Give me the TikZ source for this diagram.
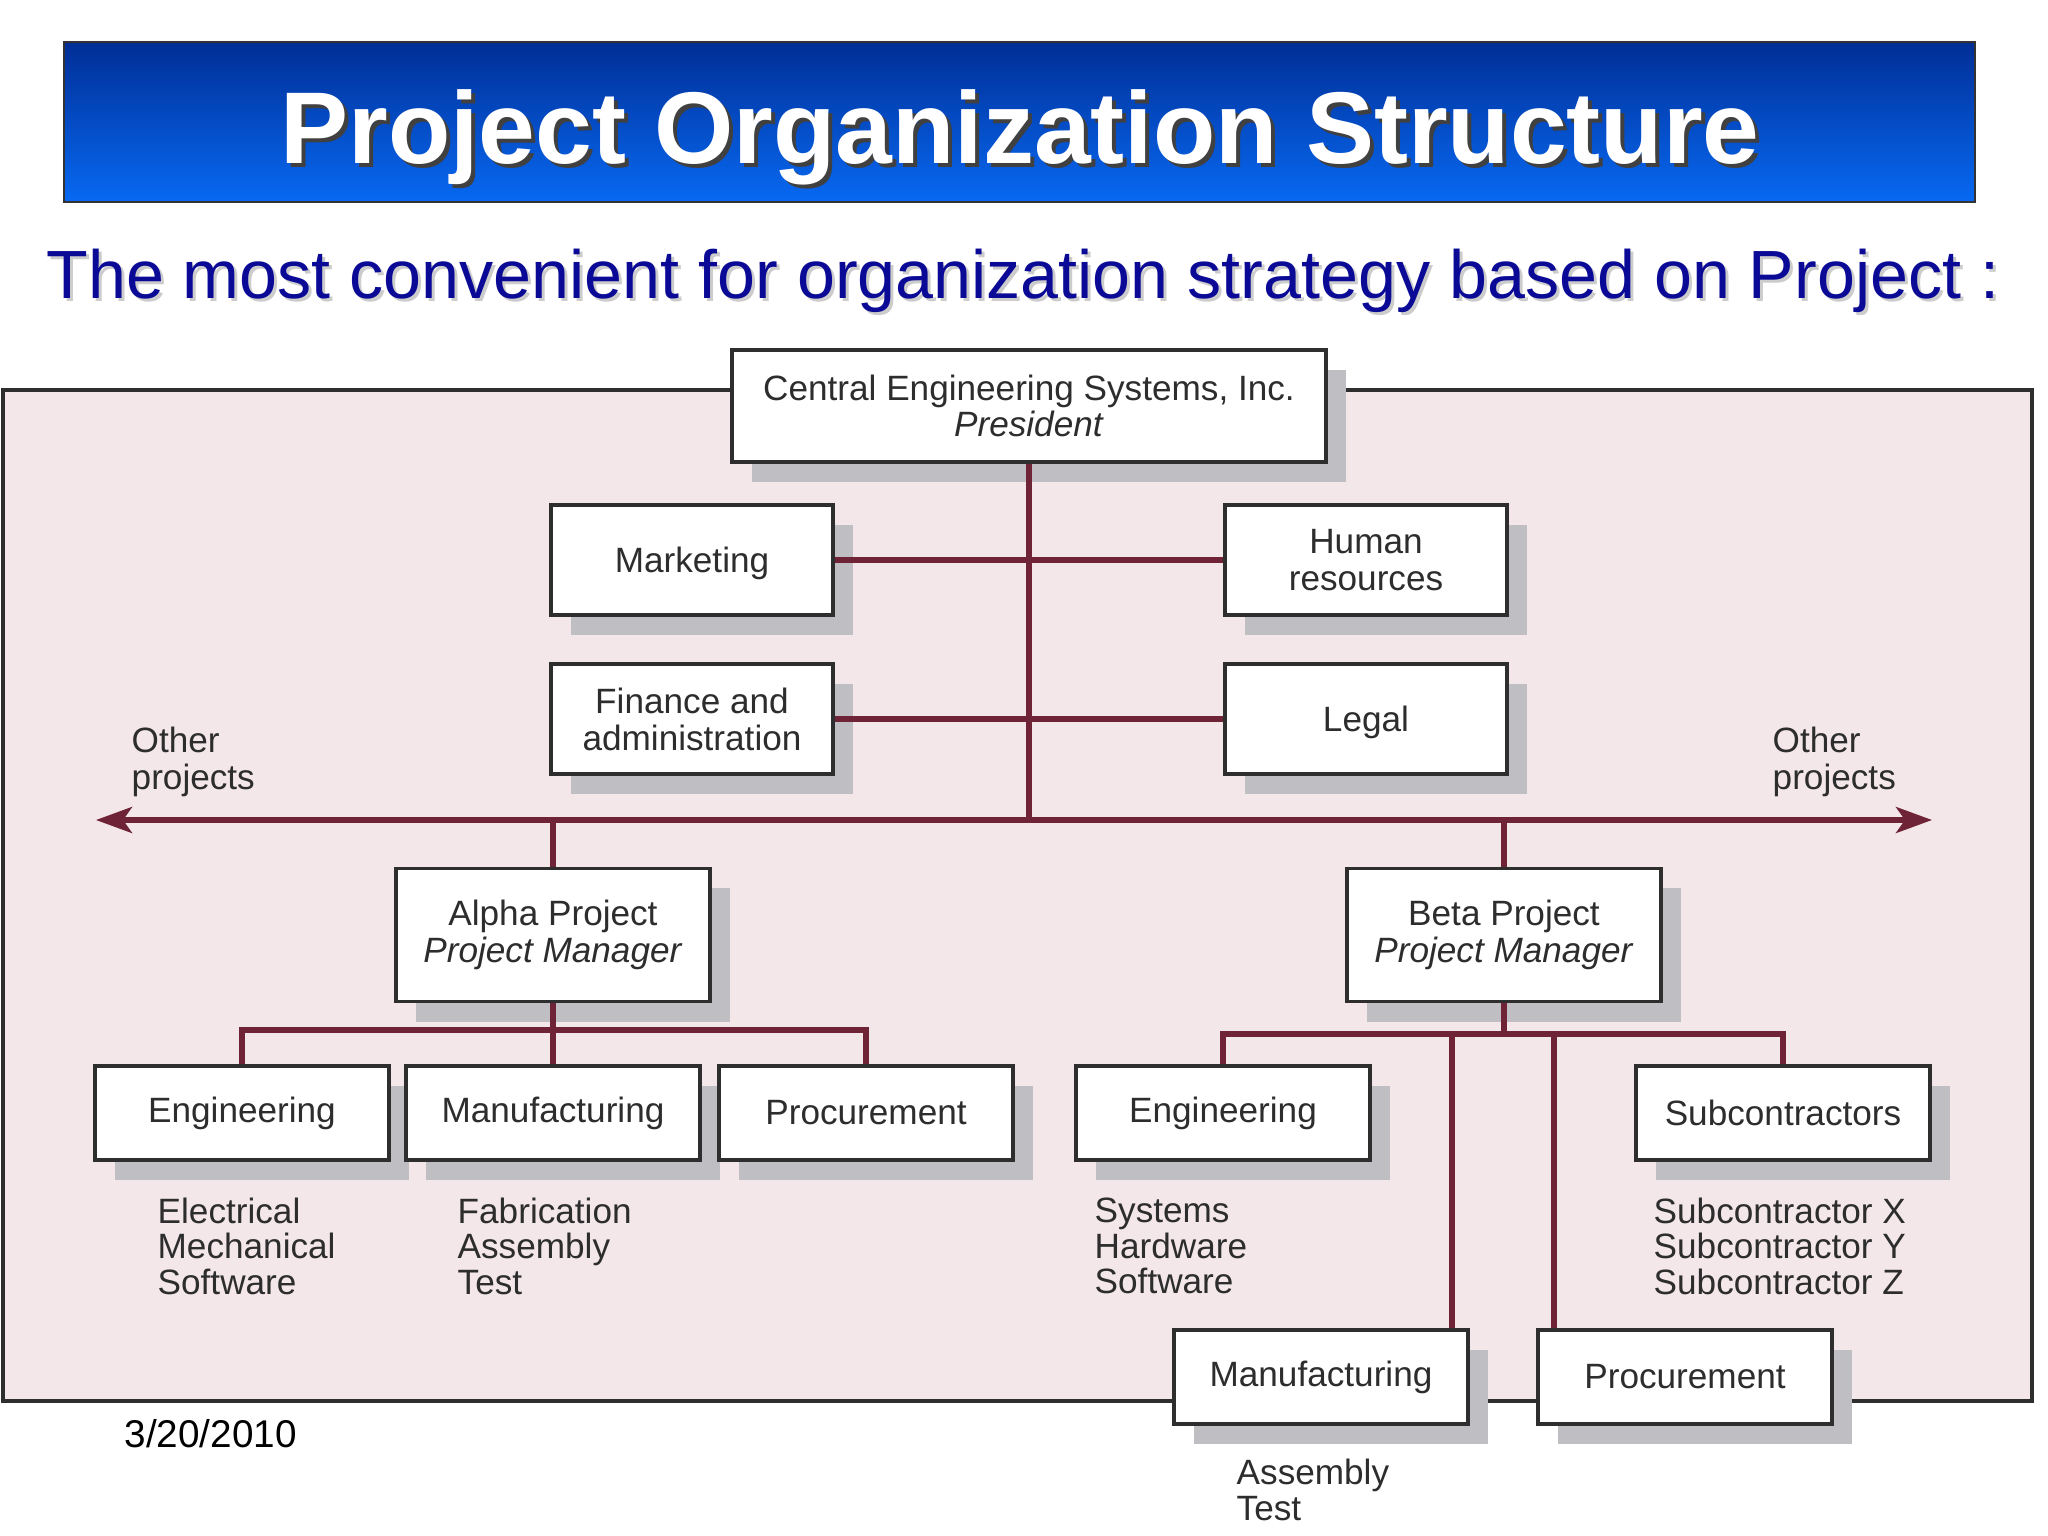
\documentclass[tikz,border=0pt]{standalone}
\usepackage{fontspec}
\setmainfont{Liberation Sans}
\usepackage{xcolor}
\usetikzlibrary{arrows.meta, positioning, shadows, calc}

\definecolor{barTop}{HTML}{002E96}
\definecolor{barBottom}{HTML}{0869F2}
\definecolor{subBlue}{HTML}{0A0A96}
\definecolor{panelPink}{HTML}{F3E7EA}
\definecolor{lineRed}{HTML}{6E2436}
\definecolor{boxEdge}{HTML}{2E2E2E}
\definecolor{shadeGray}{HTML}{BFBFC3}
\definecolor{inkGray}{HTML}{2D2D2D}

\tikzstyle{unit} = [draw=boxEdge, line width=1.1pt, fill=white, text=inkGray, align=center, inner sep=0pt,
  font=\fontsize{10}{10.4}\selectfont, general shadow={fill=shadeGray, shadow xshift=0.2cm, shadow yshift=-0.2cm}]
\tikzstyle{small} = [unit, minimum width=2.94cm, minimum height=0.94cm]
\tikzstyle{staff} = [unit, minimum width=2.82cm, minimum height=1.10cm, text depth=0pt]
\tikzstyle{lead} = [unit, minimum width=3.14cm, minimum height=1.33cm]
\tikzstyle{link} = [draw=lineRed, line width=1.5pt]
\tikzstyle{arrow} = [link, -{Stealth[length=0.36cm, width=0.26cm, inset=0.09cm]}]
\tikzstyle{sublist} = [anchor=west, align=left, text=inkGray, inner sep=0pt, font=\fontsize{10}{10.1}\selectfont]

\begin{document}
\begin{tikzpicture}[x=0.01cm, y=-0.01cm]
    \useasboundingbox (0,0) rectangle (2048,1536);

    % Title bar
    \shade[top color=barTop, bottom color=barBottom] (64,42) rectangle (1975,202);
    \draw[black!80, line width=0.6pt] (64,42) rectangle (1975,202);
    \node[anchor=base, inner sep=0pt, text=black!75, font=\fontsize{29}{30}\selectfont\bfseries] at (1024,167) {Project Organization Structure};
    \node (title) [anchor=base, inner sep=0pt, text=white, font=\fontsize{29}{30}\selectfont\bfseries] at (1020,163) {Project Organization Structure};

    % Subtitle
    \node[anchor=base, inner sep=0pt, text=black!20, font=\fontsize{19.4}{20}\selectfont] at (1026,301) {The most convenient for organization strategy based on Project :};
    \node (subtitle) [anchor=base, inner sep=0pt, text=subBlue, font=\fontsize{19.4}{20}\selectfont] at (1023,298) {The most convenient for organization strategy based on Project :};

    % Project panel
    \draw[fill=panelPink, draw=boxEdge, line width=1pt] (3,390) rectangle (2032,1401);

    % President and staff
    \node (pres) [unit, minimum width=5.93cm, minimum height=1.12cm] at (1029,406) {Central Engineering Systems, Inc.\\ \textit{President}};
    \node (mkt) [staff] at (692,560) {Marketing};
    \node (hr) [staff] at (1366,560) {Human\\ resources};
    \node (fin) [staff] at (692,719) {Finance and\\ administration};
    \node (legal) [staff] at (1366,719) {Legal};

    % Project line
    \coordinate (hub) at (1029,820);
    \coordinate (leftend) at (96,820);
    \coordinate (rightend) at (1932,820);
    \draw[link] (pres.south) -- (hub);
    \draw[link] (mkt.east) -- (hr.west);
    \draw[link] (fin.east) -- (legal.west);
    \draw[arrow] (hub) -- (leftend);
    \draw[arrow] (hub) -- (rightend);
    \node (leftother) [sublist, font=\fontsize{10}{10.4}\selectfont] at (131,762) {Other\\ projects};
    \node (rightother) [sublist, font=\fontsize{10}{10.4}\selectfont] at (1772,762) {Other\\ projects};

    % Alpha project
    \node (alpha) [lead] at (553,935) {Alpha Project\\ \textit{Project Manager}};
    \node (aeng) [small] at (242,1113) {Engineering};
    \node (amfg) [small] at (553,1113) {Manufacturing};
    \node (aproc) [small] at (866,1113) {Procurement};
    \draw[link] (alpha.north) -- (alpha.north |- hub);
    \draw[link] (alpha.south) -- (amfg.north);
    \draw[link] (aeng.north) -- ++(0,-34) -| (aproc.north);
    \node (aenglist) [sublist] at (157,1246) {Electrical\\ Mechanical\\ Software};
    \node (amfglist) [sublist] at (457,1246) {Fabrication\\ Assembly\\ Test};

    % Beta project
    \node (beta) [lead] at (1504,935) {Beta Project\\ \textit{Project Manager}};
    \node (beng) [small] at (1223,1113) {Engineering};
    \node (subc) [small] at (1783,1113) {Subcontractors};
    \node (bmfg) [small] at (1321,1377) {Manufacturing};
    \node (bproc) [small] at (1685,1377) {Procurement};
    \coordinate (bbus) at (1504,1034);
    \draw[link] (beta.north) -- (beta.north |- hub);
    \draw[link] (beta.south) -- (bbus);
    \draw[link] (beng.north) |- (bbus) -| (subc.north);
    \draw[link] ([xshift=-0.18cm]bmfg.north east) -- ([xshift=-0.18cm]bmfg.north east |- bbus);
    \draw[link] ([xshift=0.18cm]bproc.north west) -- ([xshift=0.18cm]bproc.north west |- bbus);
    \node (benglist) [sublist] at (1094,1246) {Systems\\ Hardware\\ Software};
    \node (subclist) [sublist] at (1653,1246) {Subcontractor X\\ Subcontractor Y\\ Subcontractor Z};
    \node (bmfglist) [sublist] at (1236,1490) {Assembly\\ Test};

    % Date
    \node (date) [anchor=west, inner sep=0pt, font=\fontsize{11}{12}\selectfont] at (124,1434) {3/20/2010};
\end{tikzpicture}
\end{document}
